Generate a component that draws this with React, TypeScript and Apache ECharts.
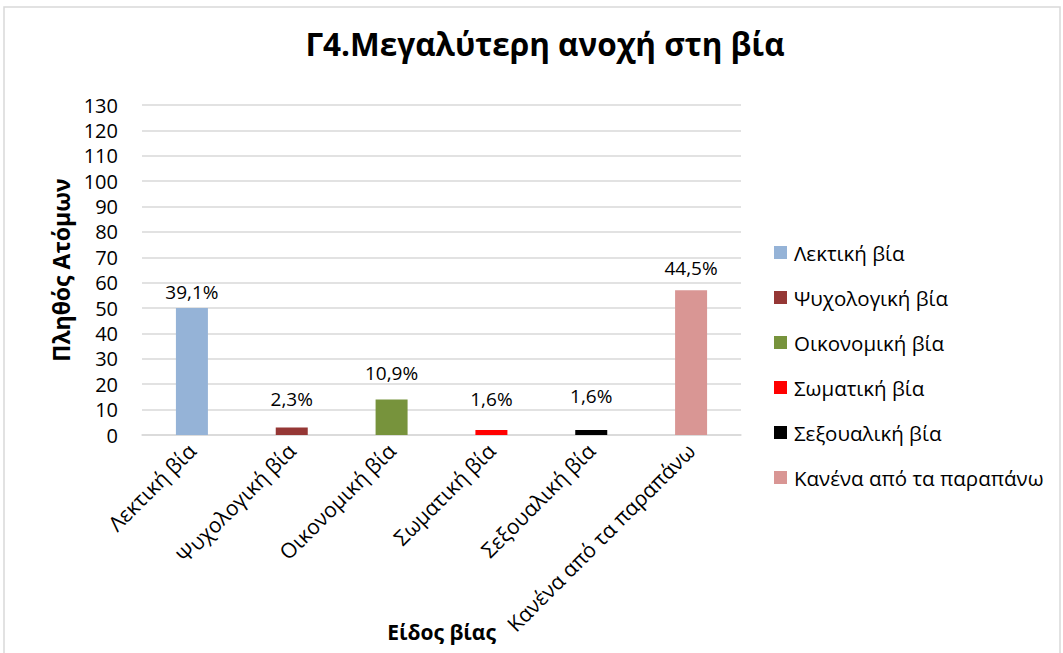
import React, { useEffect, useRef } from "react";
import * as echarts from "echarts";

const categories = [
  "Λεκτική βία",
  "Ψυχολογική βία",
  "Οικονομική βία",
  "Σωματική βία",
  "Σεξουαλική βία",
  "Κανένα από τα παραπάνω",
];
const counts = [50, 3, 14, 2, 2, 57];
const percentLabels = ["39,1%", "2,3%", "10,9%", "1,6%", "1,6%", "44,5%"];
const yTicks = { min: 0, max: 130, interval: 10 };

// styling (not data)
const colors = ["#95B3D7", "#953735", "#77933C", "#FF0000", "#000000", "#D99694"];
const labelDistances = [7, 19, 17, 21, 24, 13];

const FONT = "'Open Sans', 'Noto Sans', sans-serif";

export default function App() {
  const ref = useRef<HTMLDivElement>(null);
  useEffect(() => {
    if (!ref.current) return;
    const chart = echarts.init(ref.current, null, { renderer: "svg" });
    const series = categories.map((name, i) => ({
      name,
      type: "bar",
      stack: "all",
      barWidth: 32,
      itemStyle: { color: colors[i] },
      data: categories.map((_, j) => (j === i ? counts[i] : null)),
      label: {
        show: true,
        position: "top",
        distance: labelDistances[i],
        color: "#000",
        fontFamily: FONT,
        fontSize: 19,
        formatter: () => percentLabels[i],
      },
    }));
    chart.setOption({
      animation: false,
      backgroundColor: "#fff",
      title: {
        text: "Γ4.Μεγαλύτερη ανοχή στη βία",
        left: 540,
        top: 22,
        textAlign: "center",
        textStyle: { fontFamily: FONT, fontSize: 31.5, fontWeight: "bold", color: "#000" },
      },
      graphic: [
        {
          type: "rect",
          shape: { x: 4, y: 7, width: 1056, height: 660 },
          style: { fill: "none", stroke: "#D9D9D9", lineWidth: 1.5 },
          silent: true,
        },
      ],
      legend: {
        orient: "vertical",
        left: 769,
        top: 237,
        itemGap: 24,
        itemWidth: 13,
        itemHeight: 13,
        icon: "rect",
        textStyle: { fontFamily: FONT, fontSize: 20.5, color: "#000", padding: [0, 0, 0, 2] },
        data: categories,
      },
      grid: { left: 142, right: 322, top: 105, bottom: 218, outerBoundsMode: "none", containLabel: false },
      xAxis: {
        type: "category",
        data: categories,
        name: "Είδος βίας",
        nameLocation: "middle",
        nameGap: 186,
        nameMoveOverlap: false,
        nameTextStyle: { fontFamily: FONT, fontSize: 21, fontWeight: "bold", color: "#000" },
        axisLine: { lineStyle: { color: "#D9D9D9", width: 1.5 } },
        axisTick: { show: false },
        axisLabel: {
          rotate: 45,
          interval: 0,
          margin: 12,
          color: "#000",
          fontFamily: FONT,
          fontSize: 21,
        },
      },
      yAxis: {
        type: "value",
        min: yTicks.min,
        max: yTicks.max,
        interval: yTicks.interval,
        name: "Πληθός Ατόμων",
        nameLocation: "middle",
        nameGap: 70,
        nameMoveOverlap: false,
        nameRotate: 90,
        nameTextStyle: { fontFamily: FONT, fontSize: 23, fontWeight: "bold", color: "#000" },
        axisLine: { show: false },
        axisTick: { show: false },
        axisLabel: { color: "#000", fontFamily: FONT, fontSize: 20, margin: 24 },
        splitLine: { lineStyle: { color: "#D9D9D9", width: 1.5 } },
      },
      series,
    });
    return () => chart.dispose();
  }, []);
  return (
    <div
      ref={ref}
      style={{ position: "absolute", left: 0, top: 0, width: 1063, height: 653 }}
    />
  );
}
